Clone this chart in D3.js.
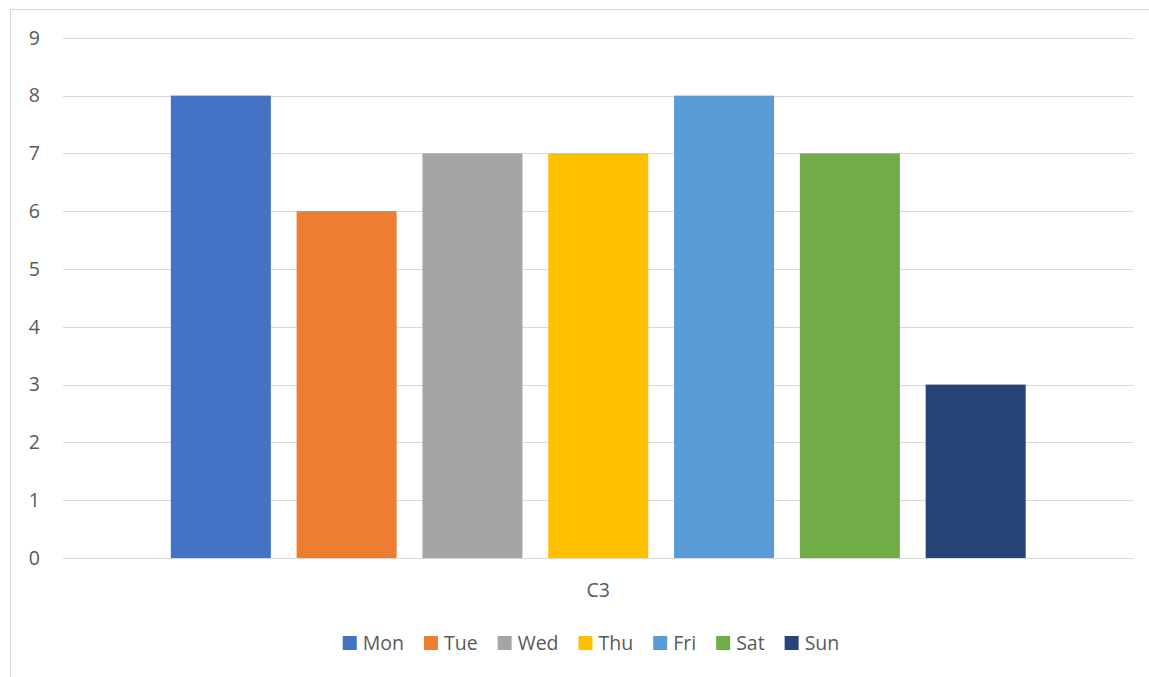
<!DOCTYPE html>
<html>
<head>
<meta charset="utf-8">
<script src="https://cdn.jsdelivr.net/npm/d3@7/dist/d3.min.js"></script>
<style>
  html, body { margin: 0; padding: 0; background: #fff; }
  svg { display: block; }
  text { font-family: "Open Sans", "Noto Sans", sans-serif; fill: #595959; }
</style>
</head>
<body>
<svg id="chart" width="1149" height="677"></svg>
<script>
const categories = ["C3"];
const seriesNames = ["Mon", "Tue", "Wed", "Thu", "Fri", "Sat", "Sun"];
const seriesValues = [8, 6, 7, 7, 8, 7, 3];
const seriesColors = ["#4472C4", "#ED7D31", "#A5A5A5", "#FFC000", "#5B9BD5", "#70AD47", "#264478"];
const yTicks = [0, 1, 2, 3, 4, 5, 6, 7, 8, 9];

const svg = d3.select("#chart");
const W = 1149, H = 677;
const plot = { left: 63, right: 1133.5, top: 37.8, bottom: 558 };

// chart border
svg.append("rect")
  .attr("x", 10.5).attr("y", 9.5)
  .attr("width", 1150).attr("height", 700)
  .attr("fill", "#fff").attr("stroke", "#d9d9d9").attr("stroke-width", 1);

const y = d3.scaleLinear().domain([0, 9]).range([plot.bottom, plot.top]);
const x0 = d3.scaleBand().domain(categories).range([plot.left, plot.right]).padding(0);
const x1 = d3.scaleBand().domain(seriesNames).range([0, x0.bandwidth()])
  .paddingInner(0.205).paddingOuter(0.857);

// gridlines
svg.append("g").selectAll("line").data(yTicks).join("line")
  .attr("x1", plot.left).attr("x2", plot.right)
  .attr("y1", d => Math.round(y(d)) + 0.5).attr("y2", d => Math.round(y(d)) + 0.5)
  .attr("stroke", "#d9d9d9").attr("stroke-width", 1);

// y axis labels
const yAxis = d3.axisLeft(y).tickValues(yTicks).tickSize(0).tickPadding(0);
const yg = svg.append("g").attr("transform", "translate(40,0)").call(yAxis);
yg.select(".domain").remove();
yg.selectAll("text")
  .attr("fill", "#595959")
  .style("font-size", "19.5px")
  .style("font-family", '"Open Sans", sans-serif');

// bars
const data = seriesNames.map((s, i) => ({ cat: categories[0], name: s, value: seriesValues[i], color: seriesColors[i] }));
svg.append("g").selectAll("rect").data(data).join("rect")
  .attr("x", d => x0(d.cat) + x1(d.name))
  .attr("width", x1.bandwidth())
  .attr("y", d => y(d.value))
  .attr("height", d => y(0) - y(d.value))
  .attr("fill", d => d.color);

// x axis category label
const xAxis = d3.axisBottom(x0).tickSize(0).tickPadding(0);
const xg = svg.append("g").attr("transform", `translate(0,${plot.bottom})`).call(xAxis);
xg.select(".domain").remove();
xg.selectAll("text")
  .attr("y", 0).attr("dy", 0)
  .attr("transform", "translate(0,39)")
  .attr("fill", "#595959")
  .style("font-size", "19.5px")
  .style("font-family", '"Open Sans", sans-serif');

// legend
const legend = svg.append("g");
const items = legend.selectAll("g").data(data).join("g");
items.append("rect").attr("width", 14).attr("height", 14).attr("y", 636).attr("fill", d => d.color);
items.append("text").attr("x", 20).attr("y", 650)
  .style("font-size", "19.5px").text(d => d.name);
let cx = 0;
const widths = [];
items.each(function () {
  const tw = d3.select(this).select("text").node().getComputedTextLength();
  widths.push(20 + tw);
});
const gap = 20;
const total = d3.sum(widths) + gap * (widths.length - 1);
let startX = 591 - total / 2;
items.attr("transform", (d, i) => {
  const tx = startX;
  startX += widths[i] + gap;
  return `translate(${tx},0)`;
});
</script>
</body>
</html>
